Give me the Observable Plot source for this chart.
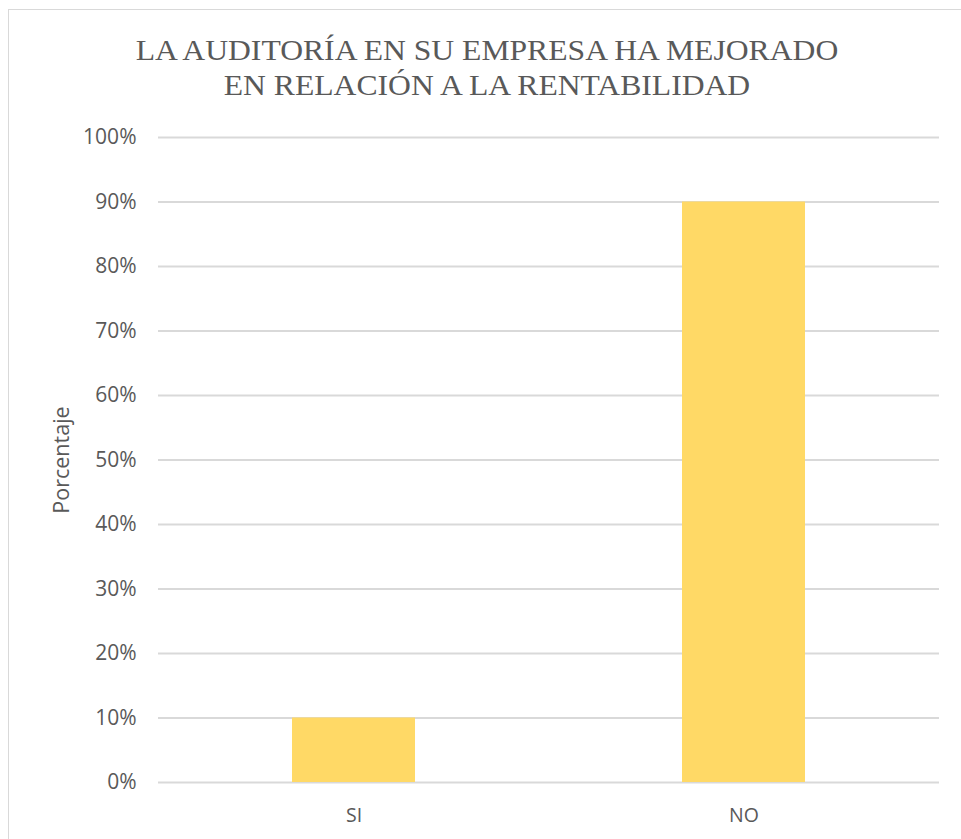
<!DOCTYPE html>
<html>
<head>
<meta charset="utf-8">
<script src="https://cdn.jsdelivr.net/npm/d3@7"></script>
<script src="https://cdn.jsdelivr.net/npm/@observablehq/plot@0.6"></script>
<style>
  html, body { margin: 0; padding: 0; background: #fff; overflow: hidden; }
  #wrap { position: relative; width: 961px; height: 839px; }
  #frame { position: absolute; left: 8px; top: 9px; width: 1000px; height: 900px; border: 1.5px solid #d9d9d9; box-sizing: border-box; }
  #title { position: absolute; left: 0; top: 33px; width: 974px; text-align: center;
           font-family: "Liberation Serif", "Times New Roman", serif; font-size: 28.5px; line-height: 35px;
           color: #595959; transform: scaleX(1.11); transform-origin: 487px 0; }
  #chart { position: absolute; left: 0; top: 0; }
</style>
</head>
<body>
<div id="wrap">
  <div id="frame"></div>
  <div id="chart"></div>
  <div id="title">LA AUDITORÍA EN SU EMPRESA HA MEJORADO<br>EN RELACIÓN A LA RENTABILIDAD</div>
</div>
<script>
const categories = ["SI", "NO"];
const values = [0.10, 0.90];
const yTicks = [0, 0.1, 0.2, 0.3, 0.4, 0.5, 0.6, 0.7, 0.8, 0.9, 1.0];
const yLabel = "Porcentaje";

const data = categories.map((c, i) => ({ cat: c, val: values[i] }));

const chart = Plot.plot({
  width: 961,
  height: 839,
  marginLeft: 158,
  marginRight: 22,
  marginTop: 137,
  marginBottom: 57,
  style: { fontFamily: "'Open Sans', sans-serif", fontSize: "20px", color: "#595959", background: "transparent" },
  x: { domain: categories, paddingInner: 0.685, paddingOuter: 0.3425, label: null },
  y: { domain: [0, 1], ticks: yTicks, label: null },
  marks: [
    Plot.gridY(yTicks, { stroke: "#d9d9d9", strokeOpacity: 1, strokeWidth: 1.8 }),
    Plot.barY(data, { x: "cat", y: "val", fill: "#ffd966" }),
    Plot.axisY(yTicks, { tickSize: 0, tickPadding: 22, tickFormat: d => Math.round(d * 100) + "%", label: null, fill: "#595959", fontSize: 21 }),
    Plot.axisX({ tickSize: 0, tickPadding: 26, label: null, fill: "#595959", fontSize: 19.5 }),
    Plot.text([yLabel], { frameAnchor: "left", dx: -96, rotate: -90, textAnchor: "middle", fill: "#595959", fontSize: 21.5 })
  ]
});
document.getElementById("chart").appendChild(chart);
</script>
</body>
</html>
